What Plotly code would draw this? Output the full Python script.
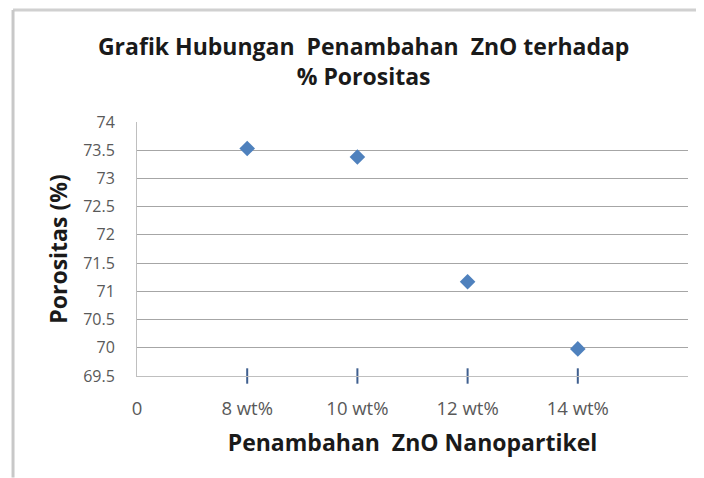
import plotly.graph_objects as go

# data
positions = [1, 2, 3, 4]
porositas = [73.53, 73.38, 71.17, 69.98]
tick_positions = [0, 1, 2, 3, 4]
tick_labels = ["0", "8 wt%", "10 wt%", "12 wt%", "14 wt%"]
y_ticks = [69.5, 70, 70.5, 71, 71.5, 72, 72.5, 73, 73.5, 74]

FONT = "Open Sans"
TITLE_FONT = dict(family=FONT, size=23, color="#1a1a1a", weight="bold")

fig = go.Figure()
fig.add_trace(
    go.Scatter(
        x=positions,
        y=[min(y_ticks)] * len(positions),
        mode="markers",
        marker=dict(symbol="line-ns", size=11, line=dict(color="#3f5f8f", width=2)),
        cliponaxis=False,
        hoverinfo="skip",
    )
)
fig.add_trace(
    go.Scatter(
        x=positions,
        y=porositas,
        mode="markers",
        marker=dict(symbol="diamond", size=12, color="#4f81bd"),
        cliponaxis=False,
        hovertemplate="%{y}<extra></extra>",
    )
)

# page body adds 8px around the figure, so the figure is a bit smaller than the window
fig.update_layout(
    width=696,
    height=470,
    margin=dict(l=129, r=16, t=114, b=102),
    paper_bgcolor="white",
    plot_bgcolor="white",
    showlegend=False,
    font=dict(family=FONT, color="#595959", size=16),
    title=dict(
        text="Grafik Hubungan  Penambahan  ZnO terhadap<br>% Porositas",
        font=TITLE_FONT,
        x=0.511,
        xanchor="center",
        y=0.90,
        yanchor="middle",
    ),
    shapes=[
        dict(type="line", xref="paper", yref="paper", x0=-0.225, x1=1.03, y0=1.441, y1=1.441,
             line=dict(color="#d0d0d0", width=3)),
        dict(type="line", xref="paper", yref="paper", x0=-0.225, x1=-0.225, y0=1.441, y1=-0.40,
             line=dict(color="#c8c8c8", width=3)),
    ],
)
fig.update_xaxes(
    range=[0, 5],
    tickvals=tick_positions,
    ticktext=tick_labels,
    tickfont=dict(size=18.5),
    showgrid=False,
    zeroline=False,
    showline=True,
    linecolor="#bfbfbf",
    linewidth=1,
    ticks="",
    ticklabelstandoff=16,
    title=dict(text="Penambahan  ZnO Nanopartikel", font=TITLE_FONT, standoff=15),
)
fig.update_yaxes(
    range=[69.5, 74],
    tickvals=y_ticks,
    ticktext=[f"{v:g}" for v in y_ticks],
    showgrid=True,
    gridcolor="#a6a6a6",
    gridwidth=1,
    zeroline=False,
    showline=True,
    linecolor="#bfbfbf",
    ticks="",
    ticklabelstandoff=18,
    title=dict(text="Porositas (%)", font=TITLE_FONT, standoff=9),
)

fig.write_html("out.html")
